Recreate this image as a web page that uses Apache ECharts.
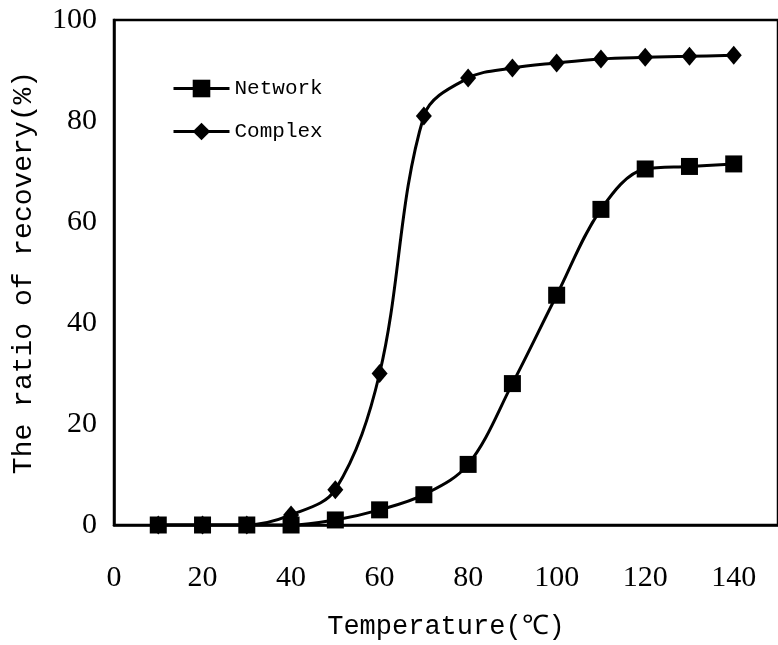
<!DOCTYPE html>
<html>
<head>
<meta charset="utf-8">
<script src="https://cdn.jsdelivr.net/npm/echarts@6/dist/echarts.min.js"></script>
<style>
  html, body { margin: 0; padding: 0; background: #fff; }
  #myChart { width: 778px; height: 645px; }
</style>
</head>
<body>
<div id="myChart"></div>
<script>
// 温度 (℃)
var temperature = [10, 20, 30, 40, 50, 60, 70, 80, 90, 100, 110, 120, 130, 140];
// 回收率 (%)
var network = [0, 0, 0, 0, 1, 3, 6, 12, 28, 45.5, 62.5, 70.5, 71, 71.5];
var complex = [0, 0, 0, 2, 7, 30, 81, 88.5, 90.5, 91.5, 92.3, 92.6, 92.8, 93];

function pairs(xs, ys) {
  return xs.map(function (x, i) { return [x, ys[i]]; });
}

var mycharts = echarts.init(document.getElementById("myChart"));
var serif = "'Liberation Serif', 'Times New Roman', serif";
var mono = "'Liberation Mono', 'Courier New', monospace";

var option = {
  animation: false,
  grid: {
    left: 114,
    top: 20,
    right: -8,
    bottom: 113,
    show: true,
    borderColor: "#000",
    borderWidth: 2.5,
    backgroundColor: "#fff"
  },
  legend: {
    orient: "vertical",
    left: 167,
    top: 73,
    itemWidth: 56,
    itemHeight: 22,
    itemGap: 22,
    lineStyle: { width: 3 },
    textStyle: { fontFamily: mono, fontSize: 21, color: "#000" },
    data: ["Network", "Complex"]
  },
  xAxis: {
    type: "value",
    min: 0,
    max: 150,
    interval: 20,
    name: "Temperature(℃)",
    nameLocation: "middle",
    nameGap: 88,
    nameTextStyle: { fontFamily: mono, fontSize: 27, color: "#000" },
    axisLine: { show: true, lineStyle: { color: "#000", width: 2.5 } },
    axisTick: { show: false },
    splitLine: { show: false },
    axisLabel: {
      margin: 38,
      showMaxLabel: false,
      fontFamily: serif,
      fontSize: 30,
      color: "#000"
    }
  },
  yAxis: {
    type: "value",
    min: 0,
    max: 100,
    interval: 20,
    name: "The ratio of recovery(%)",
    nameLocation: "middle",
    nameGap: 76,
    nameTextStyle: { fontFamily: mono, fontSize: 28, color: "#000" },
    axisLine: { show: true, lineStyle: { color: "#000", width: 2.5 } },
    axisTick: { show: false },
    splitLine: { show: false },
    axisLabel: {
      margin: 17,
      fontFamily: serif,
      fontSize: 30,
      color: "#000"
    }
  },
  series: [
    {
      name: "Network",
      type: "line",
      smooth: 0.35,
      data: pairs(temperature, network),
      symbol: "rect",
      symbolSize: 17,
      z: 3,
      lineStyle: { color: "#000", width: 3 },
      itemStyle: { color: "#000" }
    },
    {
      name: "Complex",
      type: "line",
      smooth: 0.35,
      data: pairs(temperature, complex),
      symbol: "diamond",
      symbolSize: [16, 19],
      z: 2,
      lineStyle: { color: "#000", width: 3 },
      itemStyle: { color: "#000" }
    }
  ]
};
mycharts.setOption(option);
</script>
</body>
</html>
